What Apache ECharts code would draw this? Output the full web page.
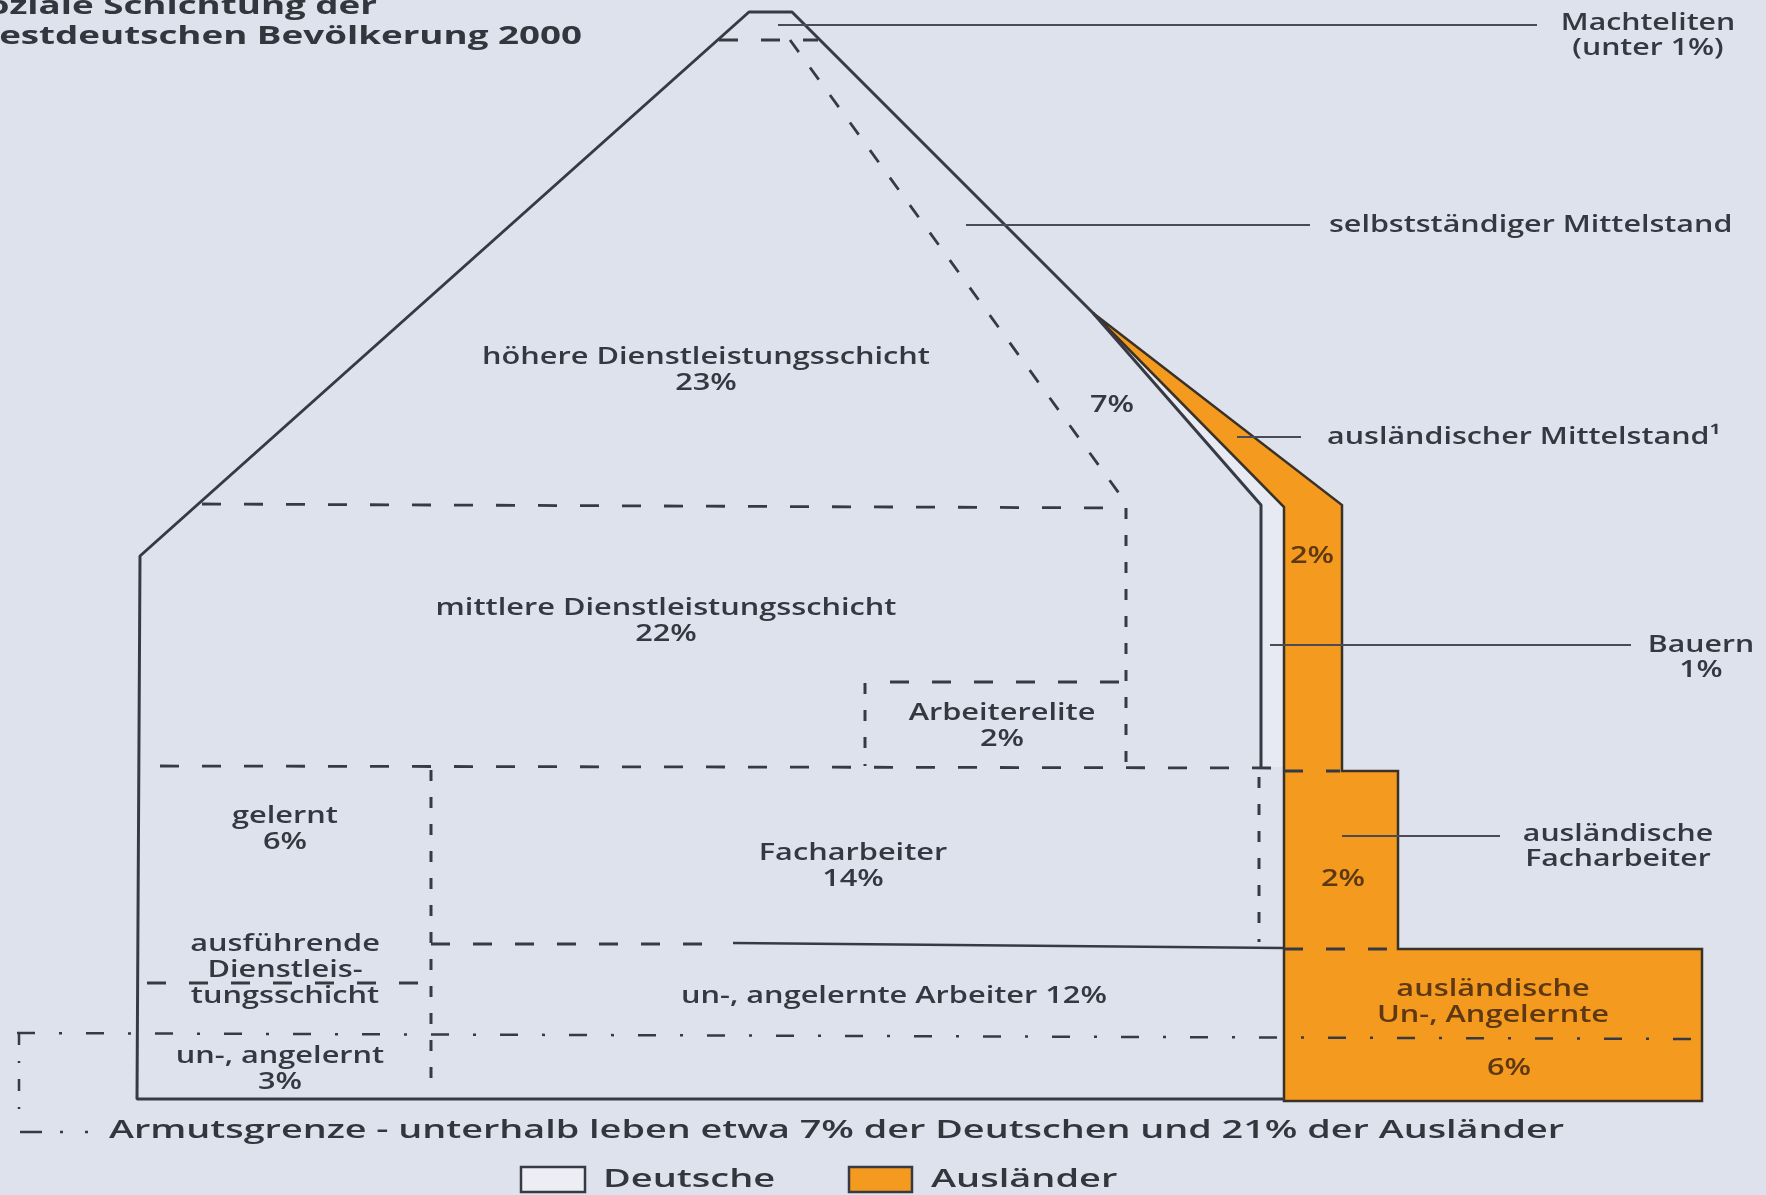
<!DOCTYPE html>
<html>
<head>
<meta charset="utf-8">
<title>Soziale Schichtung der westdeutschen Bevölkerung 2000</title>
<style>
  html, body { margin: 0; padding: 0; background: #dee2ed; }
  #chart { width: 1766px; height: 1195px; }
</style>
<script src="https://cdn.jsdelivr.net/npm/echarts@6/dist/echarts.min.js"></script>
</head>
<body>
<div id="chart"></div>
<script>
// ---- Daten: Anteile in Prozent ----
const titleLines = ['Soziale Schichtung der', 'westdeutschen Bevölkerung 2000']

const deutscheSchichten = ['höhere Dienstleistungsschicht', 'mittlere Dienstleistungsschicht', 'Arbeiterelite',
    'gelernt', 'Facharbeiter', 'un-, angelernt', 'un-, angelernte Arbeiter']
const deutscheAnteile = [23, 22, 2, 6, 14, 3, 12]
const selbststaendigeAnteil = 7

const auslaenderSchichten = ['ausländischer Mittelstand¹', 'ausländische\nFacharbeiter', 'ausländische\nUn-, Angelernte']
const auslaenderAnteile = [2, 2, 6]

const randSchichten = ['Machteliten', 'selbstständiger Mittelstand', 'Bauern']
const randAnteile = ['unter 1%', null, '1%']

const legendNames = ['Deutsche', 'Ausländer']
const armutText = 'Armutsgrenze - unterhalb leben etwa 7% der Deutschen und 21% der Ausländer'

// ---- Geometrie des Hauses (Bildkoordinaten) ----
const houseOutline = [[1284, 1099], [137, 1099], [140, 556], [749, 12], [792, 12], [1093, 313], [1261, 505], [1261, 767]]
const bauernStrip = [[1093, 313], [1285, 507], [1285, 767], [1261, 767], [1261, 505]]
const auslaenderShape = [[1093, 313], [1342, 505], [1342, 771], [1398, 771], [1398, 949], [1702, 949],
    [1702, 1101], [1284, 1101], [1284, 507]]

const dashH = [
    [[719, 40], [818, 40]],
    [[202, 504], [1126, 508]],
    [[890, 682], [1126, 682]],
    [[160, 766], [1284, 768]],
    [[1284, 771], [1340, 771]],
    [[431, 944], [713, 944]],
    [[147, 983], [427, 983]],
    [[1284, 949], [1398, 949]]
]
const dashV = [
    [[1126, 508], [1126, 766]],
    [[865, 683], [865, 766]],
    [[1259, 777], [1259, 942]],
    [[431, 770], [431, 1087]]
]
const dashDiag = [[[790, 40], [1121, 496]]]
const solidLines = [[[733, 943], [1283, 948]]]
const armutH = [[[17, 1033], [1700, 1039]]]
const armutV = [[[19, 1033], [19, 1120]]]
const armutKey = [[[20, 1132], [100, 1132]]]
const leaders = [
    [[778, 25], [1537, 25]],
    [[966, 225], [1310, 225]],
    [[1237, 437], [1301, 437]],
    [[1270, 645], [1631, 645]],
    [[1342, 836], [1500, 836]]
]
const legendBoxes = [
    [[521, 1167], [585, 1167], [585, 1192], [521, 1192]],
    [[849, 1167], [912, 1167], [912, 1192], [849, 1192]]
]

const INK = '#383a43'
const ORANGE = '#f39a1f'
const BG = '#dee2ed'

// ---- Beschriftungen ----
const pct = v => v + '%'
const houseLabels = [
    { pos: [706, 370], text: deutscheSchichten[0] + '\n' + pct(deutscheAnteile[0]) },
    { pos: [666, 621], text: deutscheSchichten[1] + '\n' + pct(deutscheAnteile[1]) },
    { pos: [1002, 726], text: deutscheSchichten[2] + '\n' + pct(deutscheAnteile[2]) },
    { pos: [1112, 405], text: pct(selbststaendigeAnteil) },
    { pos: [285, 829], text: deutscheSchichten[3] + '\n' + pct(deutscheAnteile[3]) },
    { pos: [853, 866], text: deutscheSchichten[4] + '\n' + pct(deutscheAnteile[4]) },
    { pos: [285, 970], text: 'ausführende\nDienstleis-\ntungsschicht' },
    { pos: [280, 1069], text: deutscheSchichten[5] + '\n' + pct(deutscheAnteile[5]) },
    { pos: [894, 996], text: deutscheSchichten[6] + ' ' + pct(deutscheAnteile[6]) }
]
const orangeLabels = [
    { pos: [1312, 556], text: pct(auslaenderAnteile[0]) },
    { pos: [1343, 879], text: pct(auslaenderAnteile[1]) },
    { pos: [1493, 1002], text: auslaenderSchichten[2] },
    { pos: [1509, 1068], text: pct(auslaenderAnteile[2]) }
]
const sideLabels = [
    { pos: [1648, 36], text: randSchichten[0] + '\n(' + randAnteile[0] + ')' },
    { pos: [1701, 658], text: randSchichten[2] + '\n' + randAnteile[2] },
    { pos: [1618, 847], text: auslaenderSchichten[1] }
]
const sideLeftLabels = [
    { pos: [1329, 225], text: randSchichten[1] },
    { pos: [1327, 437], text: auslaenderSchichten[0] }
]
const titleLabels = [
    { pos: [377, 7], text: titleLines[0] },
    { pos: [582, 37], text: titleLines[1] }
]
const armutLabels = [{ pos: [109, 1131], text: armutText }]
const legendLabels = [
    { pos: [603, 1180], text: legendNames[0] },
    { pos: [931, 1180], text: legendNames[1] }
]

function polygonSeries(name, points, fill, stroke, width) {
    return {
        name: name,
        type: 'custom',
        coordinateSystem: 'cartesian2d',
        silent: true,
        clip: false,
        data: [points[0]],
        renderItem: function (params, api) {
            return {
                type: 'polygon',
                shape: { points: points.map(p => api.coord(p)) },
                style: { fill: fill, stroke: stroke, lineWidth: width, lineJoin: 'miter' }
            }
        }
    }
}

function lineSeries(segments, dash, width, color) {
    return segments.map(seg => ({
        type: 'line',
        data: seg,
        symbol: 'none',
        silent: true,
        clip: false,
        lineStyle: { color: color, width: width, type: dash, cap: 'butt' }
    }))
}

function textSeries(items, opts) {
    return {
        type: 'custom',
        coordinateSystem: 'cartesian2d',
        silent: true,
        clip: false,
        z: 10,
        data: items.map(i => i.pos),
        renderItem: function (params, api) {
            const p = api.coord([api.value(0), api.value(1)])
            return {
                type: 'text',
                x: p[0],
                y: p[1],
                scaleX: opts.scaleX,
                style: {
                    text: items[params.dataIndex].text,
                    fill: opts.color,
                    font: opts.font,
                    align: opts.align || 'center',
                    verticalAlign: 'middle',
                    lineHeight: opts.lineHeight
                }
            }
        }
    }
}

const chart = echarts.init(document.getElementById('chart'))

const series = [].concat(
    polygonSeries('Bauern', bauernStrip, '#e7eaf2', null, 0),
    polygonSeries('Ausländer', auslaenderShape, ORANGE, '#3a3128', 2.5),
    lineSeries([houseOutline], 'solid', 3, INK),
    lineSeries(solidLines, 'solid', 2.5, INK),
    lineSeries(dashH, [19, 23], 2.8, INK),
    lineSeries(dashV, [11, 16], 3, INK),
    lineSeries(dashDiag, [15, 19], 2.8, INK),
    lineSeries(armutH, [18, 24, 3, 24], 2.5, INK),
    lineSeries(armutV, [12, 16, 2, 16], 2.5, INK),
    lineSeries(armutKey, [22, 18, 3, 22, 3, 40], 2.5, INK),
    lineSeries(leaders, 'solid', 2, '#4a4c55'),
    polygonSeries('Legende Deutsche', legendBoxes[0], '#eceef4', INK, 2.5),
    polygonSeries('Legende Ausländer', legendBoxes[1], ORANGE, INK, 2.5),
    textSeries(titleLabels, { font: '700 25px "Open Sans"', color: '#34363e', scaleX: 1.47, align: 'right', lineHeight: 30 }),
    textSeries(houseLabels, { font: '600 24px "Open Sans"', color: '#363841', scaleX: 1.28, lineHeight: 26 }),
    textSeries(orangeLabels, { font: '600 24px "Open Sans"', color: '#5e3812', scaleX: 1.28, lineHeight: 26 }),
    textSeries(sideLabels, { font: '600 24px "Open Sans"', color: '#363841', scaleX: 1.26, lineHeight: 25 }),
    textSeries(sideLeftLabels, { font: '600 24px "Open Sans"', color: '#363841', scaleX: 1.27, align: 'left', lineHeight: 25 }),
    textSeries(armutLabels, { font: '600 26px "Open Sans"', color: '#34363e', scaleX: 1.453, align: 'left', lineHeight: 30 }),
    textSeries(legendLabels, { font: '600 26px "Open Sans"', color: '#34363e', scaleX: 1.46, align: 'left', lineHeight: 30 })
)

chart.setOption({
    backgroundColor: BG,
    animation: false,
    grid: { left: 0, right: 0, top: 0, bottom: 0 },
    xAxis: { type: 'value', min: 0, max: 1766, show: false },
    yAxis: { type: 'value', min: 0, max: 1195, inverse: true, show: false },
    series: series
})
</script>
</body>
</html>
